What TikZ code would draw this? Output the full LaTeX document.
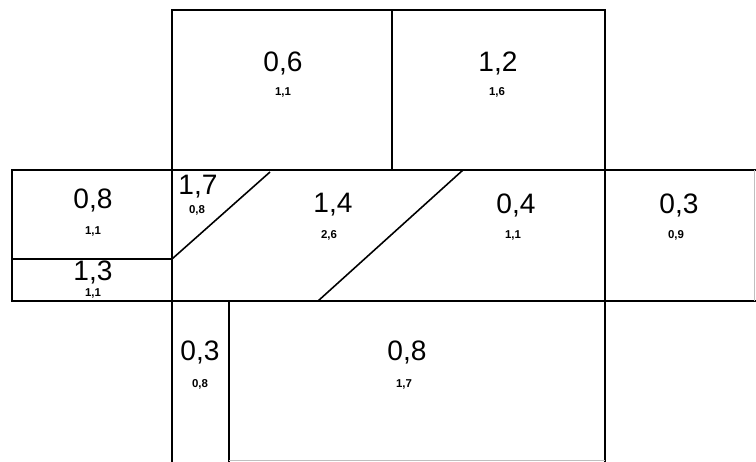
\documentclass[tikz,border=0pt]{standalone}
\usepackage{fontspec}
\setmainfont{Liberation Sans}
\usepackage{tikz}
\begin{document}
\begin{tikzpicture}[x=0.02cm, y=-0.02cm, line width=0.9pt,
  big/.style={font=\fontsize{16}{16}\selectfont, inner sep=0pt},
  sm/.style={font=\fontsize{6.5}{7}\selectfont\bfseries, inner sep=0pt},
  faint/.style={draw=black!25, line width=0.5pt}]
\useasboundingbox (0,0) rectangle (756,462);
% walls
\draw (172,462) -- (172,10) -- (605,10) -- (605,462);
\draw (392,10) -- (392,170);
\draw (756,170) -- (12,170) -- (12,301) -- (756,301);
\draw (12,259) -- (172,259);
\draw (229,301) -- (229,462);
% slanted walls
\draw (172,259) -- (270,172);
\draw (318,301) -- (463,170);
\draw[faint] (754,170) -- (754,301);
\draw[faint] (229,460) -- (605,460);
% figures per room
\foreach \n/\x/\y/\a/\sx/\sy/\b in {
  tl/283/63/{0,6}/283/92/{1,1},
  tr/498/63/{1,2}/497/92/{1,6},
  lu/93/200/{0,8}/93/231/{1,1},
  lo/93/272/{1,3}/93/293/{1,1},
  tri/198/187/{1,7}/197/210/{0,8},
  mid/333/205/{1,4}/329/235/{2,6},
  mr/516/205/{0,4}/513/235/{1,1},
  rt/679/205/{0,3}/676/235/{0,9},
  bl/200/352/{0,3}/200/384/{0,8},
  br/407/352/{0,8}/404/384/{1,7}} {
  \node[big] (\n) at (\x,\y) {\a};
  \node[sm] (\n-s) at (\sx,\sy) {\b};
}
\end{tikzpicture}
\end{document}
